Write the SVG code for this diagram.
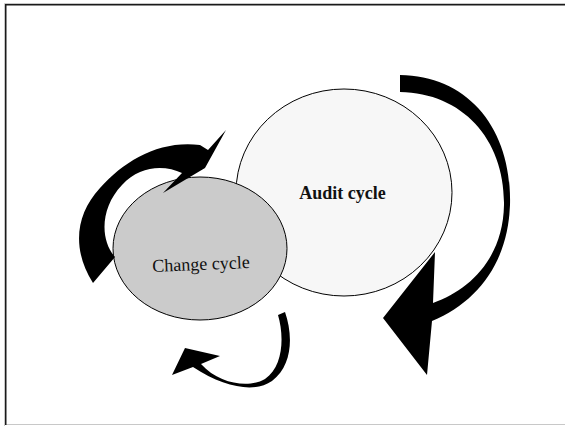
<svg xmlns="http://www.w3.org/2000/svg" width="565" height="426" viewBox="0 0 565 426">
  <style>
    .frame-dark { stroke: #1a1a1a; stroke-width: 1.5; fill: none; }
    .frame-light { stroke: #c8c8c8; stroke-width: 1; fill: none; }
    .cycle { stroke: #000; stroke-width: 1; }
    .arrow { fill: #000; stroke: none; }
    .label { font-family: "Liberation Serif", "Times New Roman", serif; font-size: 18px; fill: #111; text-anchor: middle; }
    .bold { font-weight: bold; }
  </style>
  <rect width="565" height="426" fill="#fff"/>

  <!-- page frame -->
  <g id="frame">
    <path class="frame-light" d="M4.5,426 V3.5 H565"/>
    <path class="frame-light" d="M4,424.5 H565"/>
    <path class="frame-dark" d="M5.75,425 V4.75 H565"/>
  </g>

  <!-- nodes -->
  <g id="audit-cycle">
    <ellipse class="cycle" cx="344" cy="192.5" rx="108" ry="103.5" fill="#f7f7f7"/>
    <text class="label bold" x="342.5" y="199">Audit cycle</text>
  </g>
  <g id="change-cycle">
    <ellipse class="cycle" cx="200" cy="248.5" rx="87" ry="71.5" fill="#cbcbcb"/>
    <text class="label" x="201" y="270" transform="rotate(-2.3 201 265)">Change cycle</text>
  </g>

  <!-- curved block arrows -->
  <g id="connectors">
    <path id="audit-loop" class="arrow" d="M400,75 C468,76 512,128 510,205 C508,262 478,302 432,321 L427,375 L383,318 L435,252 L433,303 C470,290 503,258 504,205 C505,140 463,93 400,92 Z"/>
    <path id="change-loop-upper" class="arrow" d="M93,283 C72,250 75,215 100,188 C125,160 160,140 200,145 L208,150 L226,130 L205,168 L163,193 L182,173 C165,165 140,165 122,185 C100,208 100,240 115,257 Z"/>
    <path id="change-loop-lower" class="arrow" d="M278,315 L285,312 C293,335 293,365 272,381 C255,393 225,388 193,367 L172,375 L185,348 L220,356 L201,364 C220,385 250,388 265,379 C284,366 284,335 278,315 Z"/>
  </g>
</svg>
